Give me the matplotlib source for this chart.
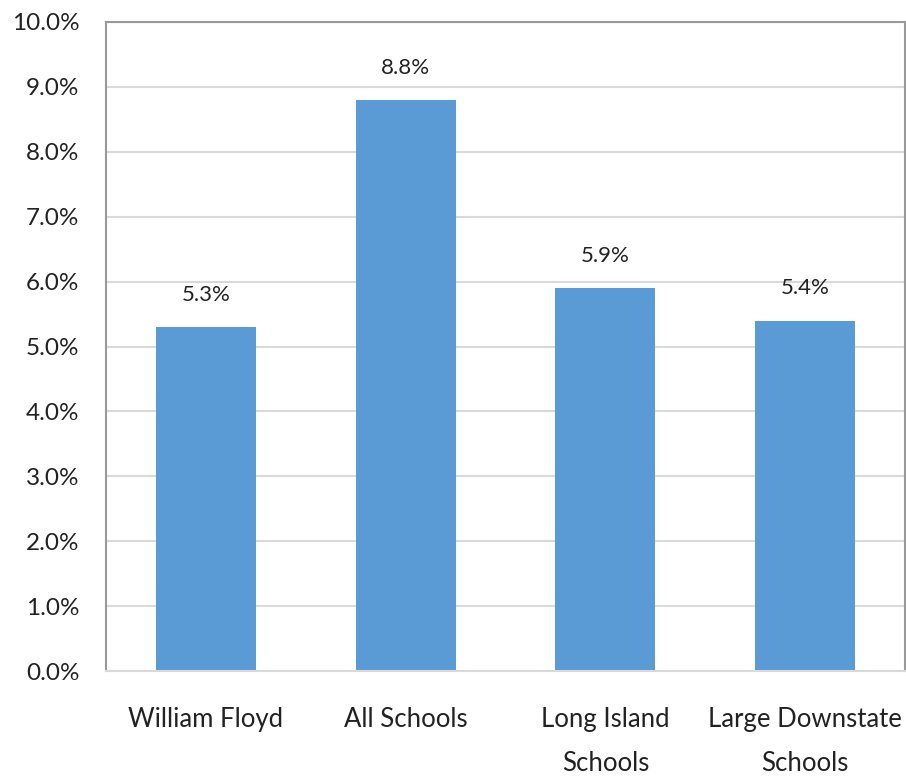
import matplotlib
matplotlib.use("Agg")
import matplotlib.pyplot as plt
from matplotlib.ticker import FuncFormatter, MultipleLocator

# Данные
categories = ["William Floyd", "All Schools", "Long Island\nSchools", "Large Downstate\nSchools"]
values = [5.3, 8.8, 5.9, 5.4]
value_labels = ["5.3%", "8.8%", "5.9%", "5.4%"]

plt.rcParams['font.family'] = ['Lato', 'DejaVu Sans']

fig = plt.figure(figsize=(9.06, 7.77), dpi=100)
ax = fig.add_axes([106 / 906, 1 - 671 / 777, (905 - 106) / 906, (671 - 22) / 777])

x = range(len(categories))
bars = ax.bar(x, values, width=0.5, color='#5B9BD5', zorder=2)

for b, lab in zip(bars, value_labels):
    ax.annotate(lab, (b.get_x() + b.get_width() / 2, b.get_height()),
                xytext=(0, 16), textcoords='offset points',
                ha='center', va='bottom', fontsize=16, color='#222222')

ax.set_xlim(-0.5, len(categories) - 0.5)
ax.set_ylim(0, 10)
ax.yaxis.set_major_locator(MultipleLocator(1))
ax.yaxis.set_major_formatter(FuncFormatter(lambda v, p: f"{v:.1f}%"))
ax.grid(axis='y', color='#D9D9D9', linewidth=1.5, zorder=0)
ax.set_axisbelow(True)

ax.set_xticks(list(x))
ax.set_xticklabels(categories, fontsize=18.5, color='#222222', linespacing=1.95)
ax.tick_params(axis='x', length=0, pad=26)
ax.tick_params(axis='y', length=0, pad=19, labelsize=17.5, labelcolor='#222222')

for s in ['left', 'top', 'right']:
    ax.spines[s].set_color('#999999')
    ax.spines[s].set_linewidth(1.5)
ax.spines['bottom'].set_color('#D9D9D9')
ax.spines['bottom'].set_linewidth(1.5)

fig.savefig("out.png", dpi=100)
